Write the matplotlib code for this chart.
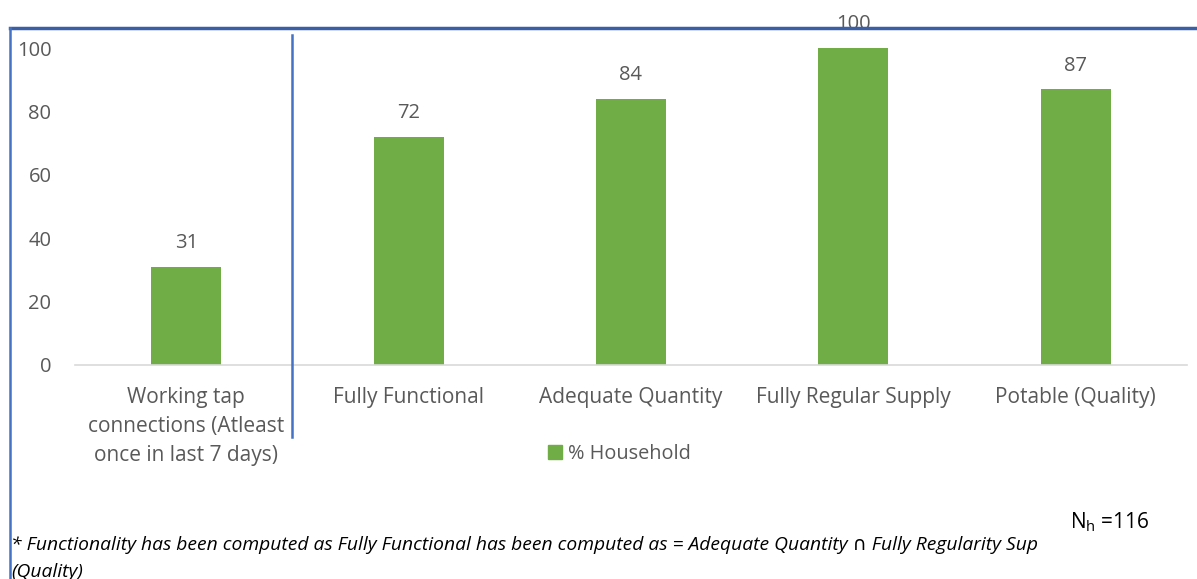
import matplotlib as mpl
import matplotlib.pyplot as plt
from matplotlib.lines import Line2D
from matplotlib.patches import Patch

categories = ['Working tap\nconnections (Atleast\nonce in last 7 days)',
              'Fully Functional', 'Adequate Quantity',
              'Fully Regular Supply', 'Potable (Quality)']
household_pct = [31, 72, 84, 100, 87]
y_ticks = [0, 20, 40, 60, 80, 100]
series_name = '% Household'
# the note box hides the end of the first footnote line in the original
footnote_line1 = ('* Functionality has been computed as Fully Functional has been computed as '
                  '= Adequate Quantity \u2229 Fully Regularity Sup')
footnote_line2 = '(Quality)'
sample_note = 'N$_\\mathregular{h}$ =116'

GREEN = '#70AD47'
GREY = '#595959'
BLUE = '#4472C4'
W, H = 1197, 579

plt.rcParams['font.family'] = ['Open Sans', 'DejaVu Sans']

fig = plt.figure(figsize=(W / 100, H / 100), dpi=100)


def fx(px):
    return px / W


def fy(py):
    return 1 - py / H


ax = fig.add_axes([fx(75), fy(365), fx(1187) - fx(75), fy(48) - fy(365)])
x = range(len(categories))
bars = ax.bar(x, household_pct, width=0.315, color=GREEN, zorder=2)
for b, v in zip(bars, household_pct):
    ax.annotate(str(v), (b.get_x() + b.get_width() / 2, v), xytext=(0, 17),
                textcoords='offset points', ha='center', va='center',
                fontsize=14.5, color=GREY, annotation_clip=False)

ax.set_xlim(-0.5, len(categories) - 0.5)
ax.set_ylim(0, 100)
ax.set_yticks(y_ticks)
ax.set_xticks(list(x))
ax.set_xticklabels(categories, fontsize=15, color=GREY, linespacing=1.5)
ax.tick_params(axis='y', labelsize=14.5, labelcolor=GREY, length=0, pad=17)
ax.tick_params(axis='x', length=0, pad=16)
for s in ['top', 'right', 'left']:
    ax.spines[s].set_visible(False)
ax.spines['bottom'].set_color('#D9D9D9')
ax.spines['bottom'].set_linewidth(1.2)

# legend
fig.legend(handles=[Patch(color=GREEN, label=series_name)], loc='center left',
           bbox_to_anchor=(fx(530), fy(454)), frameon=False, fontsize=14.3,
           handlelength=0.7, handleheight=0.7, handletextpad=0.3,
           labelcolor=GREY)

# frame and divider lines
fig.add_artist(Line2D([fx(10), 1], [fy(28), fy(28)], color='#3B5EA6', lw=2.5))
fig.add_artist(Line2D([fx(10), fx(10)], [fy(28), 0], color=BLUE, lw=1.8))
fig.add_artist(Line2D([fx(292), fx(292)], [fy(35), fy(437)], color=BLUE, lw=1.8))

# footnote
fig.text(fx(11), fy(545), footnote_line1, fontsize=13.9, style='italic',
         color='black', va='center')
fig.text(fx(11), fy(572), footnote_line2, fontsize=13.9, style='italic',
         color='black', va='center')
fig.text(fx(1070), fy(522), sample_note, fontsize=15, color='black', va='center')

fig.savefig('out.png', dpi=100)
